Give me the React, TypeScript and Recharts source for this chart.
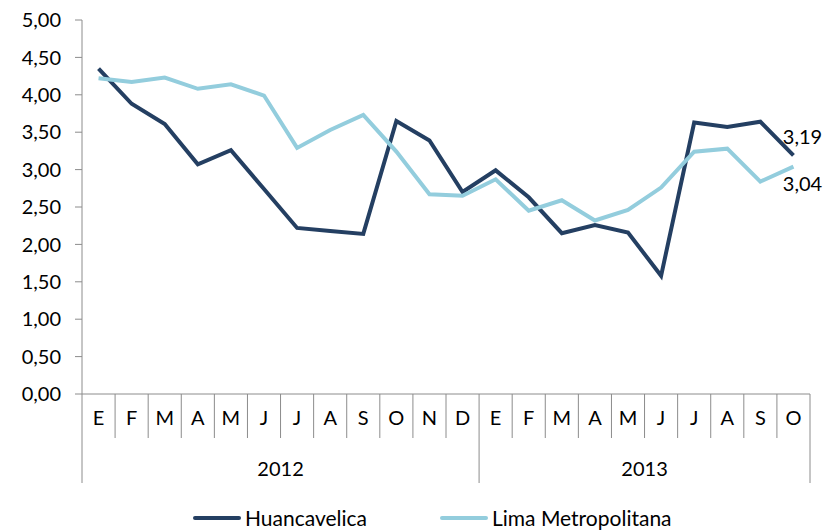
import React from 'react';
import { LineChart, Line, XAxis, YAxis, Legend, LabelList } from 'recharts';

const months = ['E', 'F', 'M', 'A', 'M', 'J', 'J', 'A', 'S', 'O', 'N', 'D', 'E', 'F', 'M', 'A', 'M', 'J', 'J', 'A', 'S', 'O'];
const years = [
  { label: '2012', start: 0, count: 12 },
  { label: '2013', start: 12, count: 10 },
];
const huancavelica = [4.35, 3.88, 3.61, 3.07, 3.26, 2.74, 2.22, 2.18, 2.14, 3.65, 3.39, 2.7, 2.99, 2.63, 2.15, 2.26, 2.16, 1.58, 3.63, 3.57, 3.64, 3.19];
const lima = [4.22, 4.17, 4.23, 4.08, 4.14, 3.99, 3.29, 3.53, 3.73, 3.24, 2.67, 2.65, 2.87, 2.45, 2.59, 2.32, 2.46, 2.76, 3.24, 3.28, 2.84, 3.04];
const yTicks = [0, 0.5, 1, 1.5, 2, 2.5, 3, 3.5, 4, 4.5, 5];

const data = months.map((m, i) => ({
  id: i,
  month: m,
  huancavelica: huancavelica[i],
  lima: lima[i],
}));

const DARK = '#243F62';
const LIGHT = '#93CDDD';
const AXIS = '#8C8C8C';
const FONT = 'Lato, sans-serif';

const WIDTH = 827;
const HEIGHT = 531;
const PLOT_LEFT = 82;
const PLOT_RIGHT = 810;
const BAND = (PLOT_RIGHT - PLOT_LEFT) / months.length;

const fmt = (v: number) => v.toFixed(2).replace('.', ',');

function MonthTick(props: any) {
  const { x, y, payload } = props;
  const i = payload.index;
  const left = x - BAND / 2;
  const year = years.find((yr) => yr.start === i);
  const isLast = i === months.length - 1;
  return (
    <g>
      <line x1={left} x2={left} y1={y} y2={y + (year ? 89 : 44)} stroke={AXIS} strokeWidth={1} />
      {isLast && <line x1={x + BAND / 2} x2={x + BAND / 2} y1={y} y2={y + 89} stroke={AXIS} strokeWidth={1} />}
      <text x={x} y={y + 31} textAnchor="middle" fontFamily={FONT} fontSize={20} fill="#000">
        {months[i]}
      </text>
      {year && (
        <text x={left + (year.count * BAND) / 2} y={y + 82} textAnchor="middle" fontFamily={FONT} fontSize={20} fill="#000">
          {year.label}
        </text>
      )}
    </g>
  );
}

function EndLabel(props: any) {
  const { x, y, index, value, dy } = props;
  if (index !== months.length - 1) return null;
  return (
    <text x={x + 9} y={y + dy} textAnchor="middle" dominantBaseline="central" fontFamily={FONT} fontSize={20} fill="#000">
      {fmt(value)}
    </text>
  );
}

function LegendContent() {
  const items = [
    { name: 'Huancavelica', color: DARK, x: 193 },
    { name: 'Lima Metropolitana', color: LIGHT, x: 440 },
  ];
  return (
    <div style={{ position: 'relative', height: 28, width: WIDTH, fontFamily: FONT, fontSize: 21, lineHeight: '24px' }}>
      {items.map((it) => (
        <div key={it.name} style={{ position: 'absolute', left: it.x, top: 3, display: 'flex', alignItems: 'center', whiteSpace: 'nowrap' }}>
          <span style={{ display: 'inline-block', width: 48, height: 4, borderRadius: 2, background: it.color, marginRight: 4 }} />
          <span style={{ color: '#000' }}>{it.name}</span>
        </div>
      ))}
    </div>
  );
}

export default function App() {
  return (
    <div style={{ position: 'absolute', left: 0, top: 0, width: WIDTH, height: HEIGHT, background: '#fff', overflow: 'hidden' }}>
      <LineChart width={WIDTH} height={HEIGHT} data={data} margin={{ top: 20, right: WIDTH - PLOT_RIGHT, bottom: 0, left: 0 }}>
        <XAxis
          dataKey="id"
          type="category"
          height={109}
          padding={{ left: BAND / 2, right: BAND / 2 }}
          axisLine={{ stroke: AXIS }}
          tickLine={false}
          tickSize={0}
          tickMargin={0}
          interval={0}
          tick={<MonthTick />}
        />
        <YAxis
          width={PLOT_LEFT}
          domain={[0, 5]}
          ticks={yTicks}
          interval={0}
          axisLine={{ stroke: AXIS }}
          tickLine={{ stroke: AXIS }}
          tickSize={7}
          tickMargin={14}
          tickFormatter={fmt}
          tick={{ fontFamily: FONT, fontSize: 20, fill: '#000' }}
        />
        <Legend verticalAlign="bottom" height={28} content={<LegendContent />} />
        <Line type="linear" dataKey="huancavelica" name="Huancavelica" stroke={DARK} strokeWidth={4} dot={false} isAnimationActive={false}>
          <LabelList dataKey="huancavelica" content={<EndLabel dy={-19} />} />
        </Line>
        <Line type="linear" dataKey="lima" name="Lima Metropolitana" stroke={LIGHT} strokeWidth={4} dot={false} isAnimationActive={false}>
          <LabelList dataKey="lima" content={<EndLabel dy={16} />} />
        </Line>
      </LineChart>
    </div>
  );
}
